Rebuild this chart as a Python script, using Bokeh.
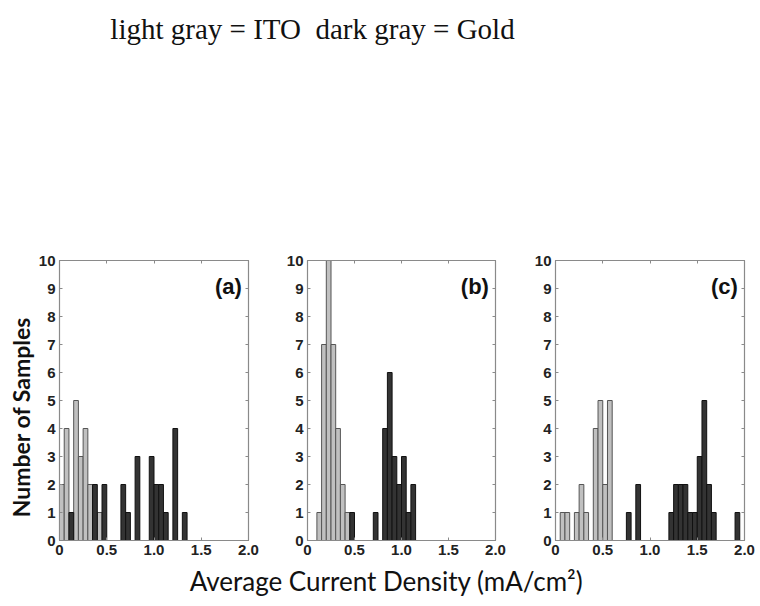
from bokeh.plotting import figure
from bokeh.layouts import row, column
from bokeh.models import Range1d, FixedTicker, LinearAxis, Label
from bokeh.core.properties import value
from bokeh.embed import file_html
from bokeh.resources import INLINE
import math

# ---- data (bin centres in mA/cm^2, counts) ----
BIN_WIDTH = 0.05

a_ito_x = [0.025, 0.075, 0.175, 0.225, 0.275, 0.325, 0.425]
a_ito_n = [2, 4, 5, 3, 4, 2, 1]
a_gold_x = [0.125, 0.375, 0.475, 0.675, 0.725, 0.825, 0.975, 1.025, 1.075, 1.125, 1.225, 1.325]
a_gold_n = [1, 2, 2, 2, 1, 3, 3, 2, 2, 1, 4, 1]

b_ito_x = [0.125, 0.175, 0.225, 0.275, 0.325, 0.375, 0.425]
b_ito_n = [1, 7, 10, 7, 4, 2, 1]
b_gold_x = [0.475, 0.725, 0.825, 0.875, 0.925, 0.975, 1.025, 1.075, 1.125]
b_gold_n = [1, 1, 4, 6, 3, 2, 3, 1, 2]

c_ito_x = [0.075, 0.125, 0.225, 0.275, 0.325, 0.425, 0.475, 0.525, 0.575]
c_ito_n = [1, 1, 1, 2, 1, 4, 5, 2, 5]
c_gold_x = [0.775, 0.875, 1.225, 1.275, 1.325, 1.375, 1.425, 1.475, 1.525, 1.575, 1.625, 1.675, 1.925]
c_gold_n = [1, 2, 1, 2, 2, 2, 1, 1, 3, 5, 2, 1, 1]

x_ticks = [0, 0.5, 1.0, 1.5, 2.0]
x_tick_labels = ["0", "0.5", "1.0", "1.5", "2.0"]
y_ticks = list(range(0, 11))
panel_labels = ["(a)", "(b)", "(c)"]

title_text = "light gray = ITO\u00a0 dark gray = Gold"
y_label_text = "Number of Samples"
x_label_text = "Average Current Density (mA/cm\u00b2)"

LIGHT_FILL = "#c0c0c0"
LIGHT_LINE = "#555555"
DARK_FILL = "#333333"
DARK_LINE = "#111111"
AX_COLOR = "#8a8a8a"
FRAME_H = 280
ROW_H = 315
TOTAL_W = 756


def blank(width, height):
    p = figure(width=width, height=height, output_backend="svg", toolbar_location=None,
               x_range=Range1d(0, width), y_range=Range1d(0, height),
               min_border=0, outline_line_color=None,
               x_axis_location=None, y_axis_location=None)
    p.grid.visible = False
    p.background_fill_color = "white"
    p.border_fill_color = "white"
    return p


def panel(ito_x, ito_n, gold_x, gold_n, label, bl, fw, br):
    p = figure(frame_width=fw, frame_height=FRAME_H, output_backend="svg", toolbar_location=None,
               x_range=Range1d(0, 2), y_range=Range1d(0, 10),
               min_border_left=bl, min_border_right=br, min_border_top=10, min_border_bottom=25,
               outline_line_color=AX_COLOR, outline_line_width=1.2)
    p.grid.visible = False
    hw = BIN_WIDTH / 2
    p.quad(left=[x - hw for x in ito_x], right=[x + hw for x in ito_x],
           bottom=0, top=ito_n, fill_color=LIGHT_FILL, line_color=LIGHT_LINE, line_width=1)
    p.quad(left=[x - hw for x in gold_x], right=[x + hw for x in gold_x],
           bottom=0, top=gold_n, fill_color=DARK_FILL, line_color=DARK_LINE, line_width=1)
    for ax in (p.xaxis[0], p.yaxis[0]):
        ax.axis_line_color = AX_COLOR
        ax.major_tick_line_color = AX_COLOR
        ax.major_tick_in = 3
        ax.major_tick_out = 0
        ax.minor_tick_line_color = None
        ax.major_label_text_font = "Liberation Sans"
        ax.major_label_text_font_style = "bold"
        ax.major_label_text_font_size = "15px"
        ax.major_label_text_color = "#222222"
        ax.major_label_standoff = 4
    p.xaxis[0].ticker = FixedTicker(ticks=x_ticks)
    p.xaxis[0].major_label_overrides = {t: s for t, s in zip(x_ticks, x_tick_labels)}
    p.yaxis[0].ticker = FixedTicker(ticks=y_ticks)
    # MATLAB-style box ticks on top and right (no labels)
    for loc, tk in (("right", y_ticks), ("above", x_ticks)):
        ax = LinearAxis(ticker=FixedTicker(ticks=tk), axis_line_color=AX_COLOR,
                        major_tick_line_color=AX_COLOR, major_tick_in=3, major_tick_out=0,
                        minor_tick_line_color=None, major_label_text_font_size="1px",
                        major_label_overrides={t: "" for t in tk},
                        major_label_standoff=0)
        p.add_layout(ax, loc)
    p.add_layout(Label(x=1.93, y=9.07, text=label, text_align="right", text_baseline="middle",
                       text_font="Liberation Sans", text_font_style="bold",
                       text_font_size="22px", text_color="#111111"))
    return p


pa = panel(a_ito_x, a_ito_n, a_gold_x, a_gold_n, panel_labels[0], 23, 189, 33)
pb = panel(b_ito_x, b_ito_n, b_gold_x, b_gold_n, panel_labels[1], 26, 188, 34)
pc = panel(c_ito_x, c_ito_n, c_gold_x, c_gold_n, panel_labels[2], 26, 189, 13)

# title
pt = blank(TOTAL_W, 250)
pt.text(x=[312], y=[222], text=[title_text], text_align="center", text_baseline="alphabetic",
        text_font=value("Liberation Serif"), text_font_size="29px", text_color="#111111")

# y label
py = blank(35, ROW_H)
py.text(x=[20], y=[ROW_H - 176], text=[y_label_text], angle=math.pi / 2,
        text_align="center", text_baseline="middle",
        text_font=value("Lato"), text_font_style="bold", text_font_size="23px",
        text_color="#111111")

# x label
px = blank(TOTAL_W, 38)
px.text(x=[386], y=[23], text=[x_label_text], text_align="center", text_baseline="middle",
        text_font=value("Lato"), text_font_size="26px", text_color="#111111")

layout = column(pt, row(py, pa, pb, pc), px)

open("out.html", "w").write(file_html(layout, INLINE))
